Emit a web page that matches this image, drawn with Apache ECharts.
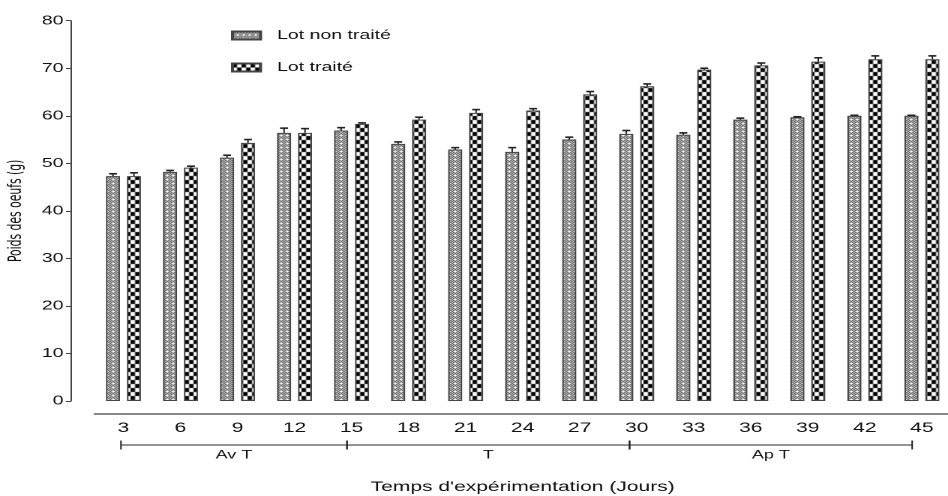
<!DOCTYPE html>
<html>
<head>
<meta charset="utf-8">
<script src="https://cdn.jsdelivr.net/npm/echarts@6/dist/echarts.min.js"></script>
<style>
html,body{margin:0;padding:0;background:#fff;}
#wrap{width:948px;height:496px;overflow:hidden;position:relative;background:#fff;}
#main{width:632px;height:496px;transform:scaleX(1.5);transform-origin:0 0;}
</style>
</head>
<body>
<div id="wrap"><div id="main"></div></div>
<script>
// ---- data ----
const days = ['3','6','9','12','15','18','21','24','27','30','33','36','39','42','45'];
const nonTreated    = [47.3, 48.2, 51.2, 56.4, 56.9, 54.1, 52.9, 52.4, 55.0, 56.2, 56.0, 59.2, 59.7, 60.0, 60.0];
const nonTreatedErr = [0.5, 0.3, 0.5, 1.0, 0.6, 0.4, 0.4, 0.9, 0.5, 0.7, 0.4, 0.3, 0.1, 0.1, 0.1];
const treated       = [47.3, 49.1, 54.3, 56.4, 58.3, 59.2, 60.6, 61.1, 64.5, 66.2, 69.7, 70.6, 71.4, 71.9, 71.9];
const treatedErr    = [0.7, 0.3, 0.7, 0.9, 0.2, 0.5, 0.7, 0.4, 0.6, 0.5, 0.3, 0.5, 0.8, 0.7, 0.7];
const groupNames  = ['Av T', 'T', 'Ap T'];
const groupStarts = [3, 15, 30];
const groupEnds   = [15, 30, 45];
const yTicks = [0, 10, 20, 30, 40, 50, 60, 70, 80];

// ---- style ----
const FONT = 'Liberation Sans, Arial, sans-serif';
const BAR_W = 9.3;
const GAP = 0.5;
const CAP = 5.3;

function makePattern(kind) {
  const c = document.createElement('canvas');
  const ctx = c.getContext('2d');
  if (kind === 'fine') {
    c.width = 4; c.height = 4;
    ctx.fillStyle = '#fff'; ctx.fillRect(0, 0, 4, 4);
    ctx.fillStyle = '#222';
    [[0,0],[2,0],[1,1],[3,1],[0,2],[2,2],[1,3]].forEach(p => ctx.fillRect(p[0], p[1], 1, 1));
  } else {
    c.width = 6; c.height = 8;
    ctx.fillStyle = '#fff'; ctx.fillRect(0, 0, 6, 8);
    ctx.fillStyle = '#000';
    ctx.fillRect(0, 0, 3, 4);
    ctx.fillRect(3, 4, 3, 4);
  }
  return { image: c, repeat: 'repeat' };
}

function errRender(sign, errs) {
  return function (params, api) {
    const i = api.value(0), v = api.value(1), e = errs[params.dataIndex];
    const base = api.coord([i, v]);
    const top = api.coord([i, v + e]);
    const x = base[0] + sign * BAR_W * (1 + GAP) / 2;
    return {
      type: 'group',
      children: [
        { type: 'line', shape: { x1: x, y1: base[1], x2: x, y2: top[1] }, style: { stroke: '#222', lineWidth: 1 } },
        { type: 'line', shape: { x1: x - CAP / 2, y1: top[1], x2: x + CAP / 2, y2: top[1] }, style: { stroke: '#222', lineWidth: 1.6 } }
      ]
    };
  };
}

function bracketRender(params, api) {
  const a = api.coord([api.value(0), 0]);
  const b = api.coord([api.value(1), 0]);
  const y = a[1] + 44;
  return {
    type: 'group',
    children: [
      { type: 'line', shape: { x1: a[0], y1: y, x2: b[0], y2: y }, style: { stroke: '#555', lineWidth: 1.2 } },
      { type: 'line', shape: { x1: a[0], y1: y - 4.5, x2: a[0], y2: y + 4.5 }, style: { stroke: '#222', lineWidth: 1 } },
      { type: 'line', shape: { x1: b[0], y1: y - 4.5, x2: b[0], y2: y + 4.5 }, style: { stroke: '#222', lineWidth: 1 } },
      { type: 'text', x: (a[0] + b[0]) / 2, y: y + 10,
        style: { text: groupNames[params.dataIndex], fontSize: 12, fontFamily: FONT, fill: '#111', align: 'center', verticalAlign: 'middle' } }
    ]
  };
}

const chart = echarts.init(document.getElementById('main'), null, { renderer: 'canvas', devicePixelRatio: 2 });

chart.setOption({
  animation: false,
  backgroundColor: '#fff',
  textStyle: { fontFamily: FONT },
  legend: {
    data: ['Lot non traité', 'Lot traité'],
    orient: 'vertical',
    left: 149, top: 24,
    padding: 5,
    itemWidth: 18.7, itemHeight: 8, itemGap: 19,
    icon: 'rect',
    textStyle: { fontSize: 13, color: '#111', fontFamily: FONT, padding: [0, 0, 0, 6] }
  },
  grid: { left: 63.3, top: 20.7, width: 570.3, bottom: 95, containLabel: false, outerBoundsMode: 'none' },
  xAxis: [
    {
      type: 'category',
      data: days,
      offset: 13,
      axisLine: { onZero: false, lineStyle: { color: '#888', width: 2 } },
      axisTick: { alignWithLabel: true, length: 5, lineStyle: { color: '#333', width: 1 } },
      axisLabel: { color: '#111', fontSize: 14, margin: 7, fontFamily: FONT },
      name: "Temps d'expérimentation (Jours)",
      nameLocation: 'middle',
      nameGap: 66,
      nameTextStyle: { fontSize: 14, color: '#111', fontFamily: FONT }
    },
    { type: 'value', min: 1.62, max: 47.03, show: false, axisLine: { onZero: false } }
  ],
  yAxis: {
    type: 'value',
    min: 0, max: 80, interval: 10,
    offset: 16,
    axisLine: { show: true, onZero: false, lineStyle: { color: '#444', width: 1 } },
    axisTick: { show: true, length: 3.3, lineStyle: { color: '#444' } },
    splitLine: { show: false },
    axisLabel: { color: '#111', fontSize: 13, margin: 5, fontFamily: FONT,
      customValues: yTicks },
    name: 'Poids des oeufs (g)',
    nameLocation: 'middle',
    nameGap: 26,
    nameTextStyle: { fontSize: 12, color: '#111', fontFamily: 'Liberation Sans Narrow, DejaVu Sans Condensed, Liberation Sans, sans-serif' }
  },
  series: [
    {
      name: 'Lot non traité', type: 'bar', data: nonTreated,
      barWidth: BAR_W, barGap: (GAP * 100) + '%',
      itemStyle: { color: makePattern('fine'), borderColor: '#444', borderWidth: 1 }
    },
    {
      name: 'Lot traité', type: 'bar', data: treated,
      barWidth: BAR_W,
      itemStyle: { color: makePattern('checker'), borderColor: '#444', borderWidth: 1 }
    },
    {
      type: 'custom', name: 'errNon', xAxisIndex: 0,
      data: nonTreated.map((v, i) => [i, v]),
      encode: { x: 0, y: 1 },
      renderItem: errRender(-1, nonTreatedErr), z: 5
    },
    {
      type: 'custom', name: 'errTr', xAxisIndex: 0,
      data: treated.map((v, i) => [i, v]),
      encode: { x: 0, y: 1 },
      renderItem: errRender(1, treatedErr), z: 5
    },
    {
      type: 'custom', name: 'groups', xAxisIndex: 1,
      clip: false,
      data: groupStarts.map((s, i) => [s, groupEnds[i], 0]),
      encode: { x: [0, 1], y: 2 },
      renderItem: bracketRender, silent: true
    }
  ]
});
</script>
</body>
</html>
